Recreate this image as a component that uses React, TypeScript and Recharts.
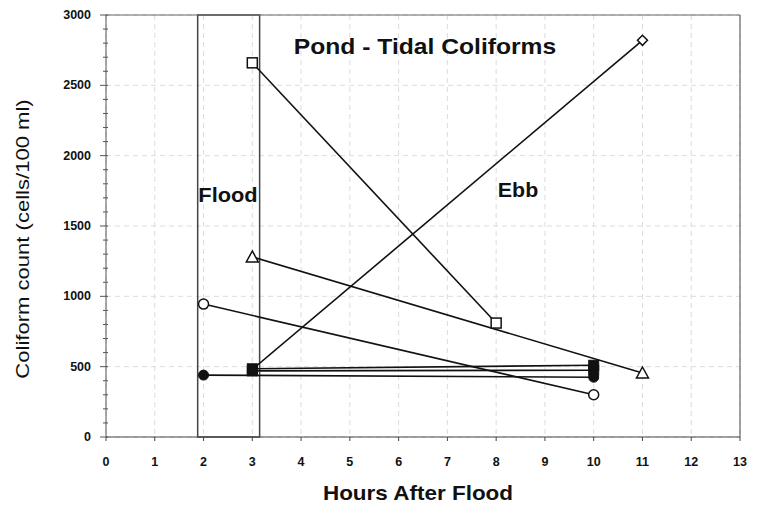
import React from "react";
import {
  CartesianGrid,
  Line,
  LineChart,
  ReferenceArea,
  ReferenceLine,
  XAxis,
  YAxis,
} from "recharts";

const xTicks = [0, 1, 2, 3, 4, 5, 6, 7, 8, 9, 10, 11, 12, 13];
const yTicks = [0, 500, 1000, 1500, 2000, 2500, 3000];
const yAllTicks = Array.from({ length: 31 }, (_, i) => i * 100);

const openSquare = [
  { hour: 3, count: 2660 },
  { hour: 8, count: 810 },
];
const openDiamond = [
  { hour: 3, count: 480 },
  { hour: 11, count: 2820 },
];
const openTriangle = [
  { hour: 3, count: 1280 },
  { hour: 11, count: 455 },
];
const openCircle = [
  { hour: 2, count: 945 },
  { hour: 10, count: 300 },
];
const filledSquareA = [
  { hour: 3, count: 485 },
  { hour: 10, count: 510 },
];
const filledSquareB = [
  { hour: 3, count: 470 },
  { hour: 10, count: 475 },
];
const filledCircle = [
  { hour: 2, count: 440 },
  { hour: 10, count: 425 },
];

const font = "'Liberation Sans', Arial, sans-serif";
const ink = "#111";

type DotProps = { cx?: number; cy?: number; index?: number };

const makeDot = (shape: string, hideFirst = false) => (p: DotProps) => {
  const { cx = 0, cy = 0, index = 0 } = p;
  const key = `${shape}-${index}`;
  if (hideFirst && index === 0) return <g key={key} />;
  switch (shape) {
    case "square":
      return <rect key={key} x={cx - 5} y={cy - 5} width={10} height={10} fill="#fff" stroke={ink} strokeWidth={1.5} />;
    case "fsquare":
      return <rect key={key} x={cx - 5} y={cy - 5} width={10} height={10} fill={ink} stroke={ink} />;
    case "circle":
      return <circle key={key} cx={cx} cy={cy} r={5} fill="#fff" stroke={ink} strokeWidth={1.5} />;
    case "fcircle":
      return <circle key={key} cx={cx} cy={cy} r={5} fill={ink} stroke={ink} />;
    case "triangle":
      return <path key={key} d={`M${cx},${cy - 6} L${cx + 6},${cy + 5} L${cx - 6},${cy + 5} Z`} fill="#fff" stroke={ink} strokeWidth={1.5} />;
    case "diamond":
      return <path key={key} d={`M${cx},${cy - 5} L${cx + 5},${cy} L${cx},${cy + 5} L${cx - 5},${cy} Z`} fill="#fff" stroke={ink} strokeWidth={1.5} />;
    default:
      return <g key={key} />;
  }
};

const series: { data: { hour: number; count: number }[]; shape: string; hideFirst?: boolean }[] = [
  { data: filledCircle, shape: "fcircle" },
  { data: filledSquareB, shape: "fsquare" },
  { data: filledSquareA, shape: "fsquare" },
  { data: openCircle, shape: "circle" },
  { data: openTriangle, shape: "triangle" },
  { data: openDiamond, shape: "diamond", hideFirst: true },
  { data: openSquare, shape: "square" },
];

// y ticks: every 100 gets a short mark, every 500 gets a label and longer mark
const YTick = (p: { x?: number; y?: number; payload?: { value: number } }) => {
  const { x = 0, y = 0, payload } = p;
  const v = payload ? payload.value : 0;
  const major = v % 500 === 0;
  return (
    <g>
      <line x1={major ? x - 6 : x - 3} x2={x + 2} y1={y} y2={y} stroke="#555" />
      {major && (
        <text x={x - 15} y={y} dy={4} textAnchor="end" fontSize={12.5} fontWeight="bold" fontFamily={font} fill={ink}>
          {v}
        </text>
      )}
    </g>
  );
};

const text = (style: React.CSSProperties, tf: string): React.CSSProperties => ({
  position: "absolute",
  fontFamily: font,
  color: ink,
  whiteSpace: "nowrap",
  lineHeight: 1,
  transform: `translate(-50%, -50%) ${tf}`,
  ...style,
});

export default function App() {
  return (
    <div style={{ position: "absolute", left: 0, top: 0, width: 765, height: 505, background: "#fff" }}>
      <LineChart width={765} height={505} margin={{ top: 15, right: 25, bottom: 38, left: 0 }}>
        <CartesianGrid stroke="#dcdcdc" strokeDasharray="5 4" horizontalValues={yTicks} verticalValues={xTicks} />
        <XAxis
          type="number"
          dataKey="hour"
          domain={[0, 13]}
          ticks={xTicks}
          interval={0}
          height={30}
          tickSize={4}
          tickMargin={16}
          stroke="#444"
          tick={{ fill: ink, fontSize: 12.5, fontWeight: "bold", fontFamily: font }}
          allowDuplicatedCategory={false}
        />
        <YAxis
          type="number"
          domain={[0, 3000]}
          ticks={yAllTicks}
          interval={0}
          width={106}
          tickSize={0}
          tickMargin={0}
          tickLine={false}
          stroke="#555"
          tick={<YTick />}
        />
        <ReferenceLine y={3000} stroke="#666" strokeWidth={1.2} />
        <ReferenceLine x={13} stroke="#666" strokeWidth={1.2} />
        <ReferenceArea x1={1.88} x2={3.15} y1={0} y2={3000} fill="none" stroke="#444" strokeWidth={1.5} ifOverflow="visible" />
        {series.map((s, i) => (
          <Line
            key={i}
            data={s.data}
            dataKey="count"
            stroke={ink}
            strokeWidth={1.6}
            dot={makeDot(s.shape, s.hideFirst)}
            activeDot={false}
            isAnimationActive={false}
          />
        ))}
      </LineChart>
      <div style={text({ left: 425, top: 47, fontSize: 22, fontWeight: "bold" }, "scaleX(1.12)")}>Pond - Tidal Coliforms</div>
      <div style={text({ left: 228, top: 195, fontSize: 20, fontWeight: "bold" }, "scaleX(1.09)")}>Flood</div>
      <div style={text({ left: 518, top: 190, fontSize: 20, fontWeight: "bold" }, "scaleX(1.07)")}>Ebb</div>
      <div style={text({ left: 418, top: 492, fontSize: 21, fontWeight: "bold" }, "scaleX(1.07)")}>Hours After Flood</div>
      <div style={text({ left: 22, top: 239, fontSize: 19 }, "rotate(-90deg) scaleX(1.16)")}>
        Coliform count (cells/100 ml)
      </div>
    </div>
  );
}
